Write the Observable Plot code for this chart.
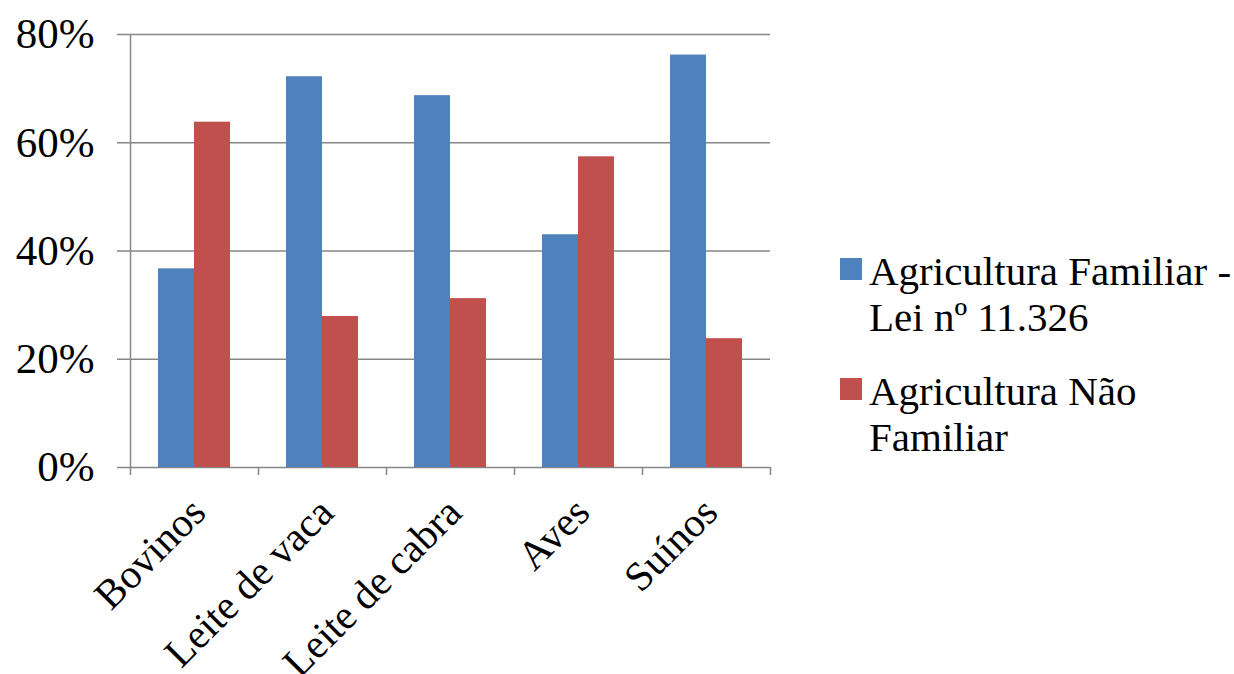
<!DOCTYPE html>
<html><head><meta charset="utf-8">
<script src="https://cdn.jsdelivr.net/npm/d3@7"></script>
<script src="https://cdn.jsdelivr.net/npm/@observablehq/plot@0.6"></script>
<style>
body{margin:0;background:#fff;overflow:hidden;font-family:"Liberation Serif","Times New Roman",serif;}
#wrap{position:relative;width:1234px;height:674px;}
#legend{position:absolute;left:840px;top:248px;}
.item{position:relative;padding-left:29px;font-size:41px;line-height:46px;color:#000;margin-bottom:28px;width:375px;}
.sw{position:absolute;left:0;top:10px;width:22px;height:22px;}
</style></head><body><div id="wrap"></div>
<script>
const categories = ["Bovinos","Leite de vaca","Leite de cabra","Aves","Suínos"];
const seriesNames = ["Agricultura Familiar - Lei nº 11.326","Agricultura Não Familiar"];
const familiar = [36.7,72.2,68.7,43.0,76.2];
const naoFamiliar = [63.8,27.9,31.2,57.4,23.8];
const yTicks = [0,20,40,60,80];
const colors = ["#4F81BD","#C0504D"];

const famData = categories.map((c,i)=>({cat:c, value:familiar[i]}));
const naoData = categories.map((c,i)=>({cat:c, value:naoFamiliar[i]}));
const grid = "#868686";

const chart = Plot.plot({
  width:1234, height:674,
  marginLeft:130, marginRight:464, marginTop:34, marginBottom:207,
  style:{fontFamily:"'Liberation Serif','Times New Roman',serif", fontSize:"41px", color:"#000", background:"#fff", overflow:"visible"},
  x:{domain:categories, type:"band", padding:0, label:null},
  y:{domain:[0,80], label:null},
  marks:[
    Plot.ruleY(yTicks, {stroke:grid, strokeWidth:1.5, strokeOpacity:1}),
    Plot.axisY({ticks:yTicks, tickFormat:d=>d+"%", tickSize:13, tickPadding:23, stroke:grid, strokeWidth:1.5, strokeOpacity:1, fontSize:43, fill:"#000"}),
    Plot.axisX({tickSize:0, tickPadding:38, tickRotate:-45, fontSize:41, fill:"#000", dx:4}),
    Plot.barY(famData, {x:"cat", y:"value", fill:colors[0], insetLeft:28, insetRight:64}),
    Plot.barY(naoData, {x:"cat", y:"value", fill:colors[1], insetLeft:64, insetRight:28}),
    Plot.tickX([categories[0]], {x:d=>d, dx:-64, insetBottom:-8, stroke:grid, strokeWidth:1.5, strokeOpacity:1}),
    Plot.tickX(categories.slice(1), {x:d=>d, dx:-64, insetTop:433, insetBottom:-8, stroke:grid, strokeWidth:1.5, strokeOpacity:1}),
    Plot.tickX([categories[categories.length-1]], {x:d=>d, dx:64, insetTop:433, insetBottom:-8, stroke:grid, strokeWidth:1.5, strokeOpacity:1})
  ]
});
const wrap = document.getElementById("wrap");
wrap.appendChild(chart);
const legend = document.createElement("div");
legend.id = "legend";
seriesNames.forEach((name,i)=>{
  const item = document.createElement("div");
  item.className = "item";
  const sw = document.createElement("span");
  sw.className = "sw";
  sw.style.background = colors[i];
  item.appendChild(sw);
  item.appendChild(document.createTextNode(name));
  legend.appendChild(item);
});
wrap.appendChild(legend);
</script>
</body></html>
